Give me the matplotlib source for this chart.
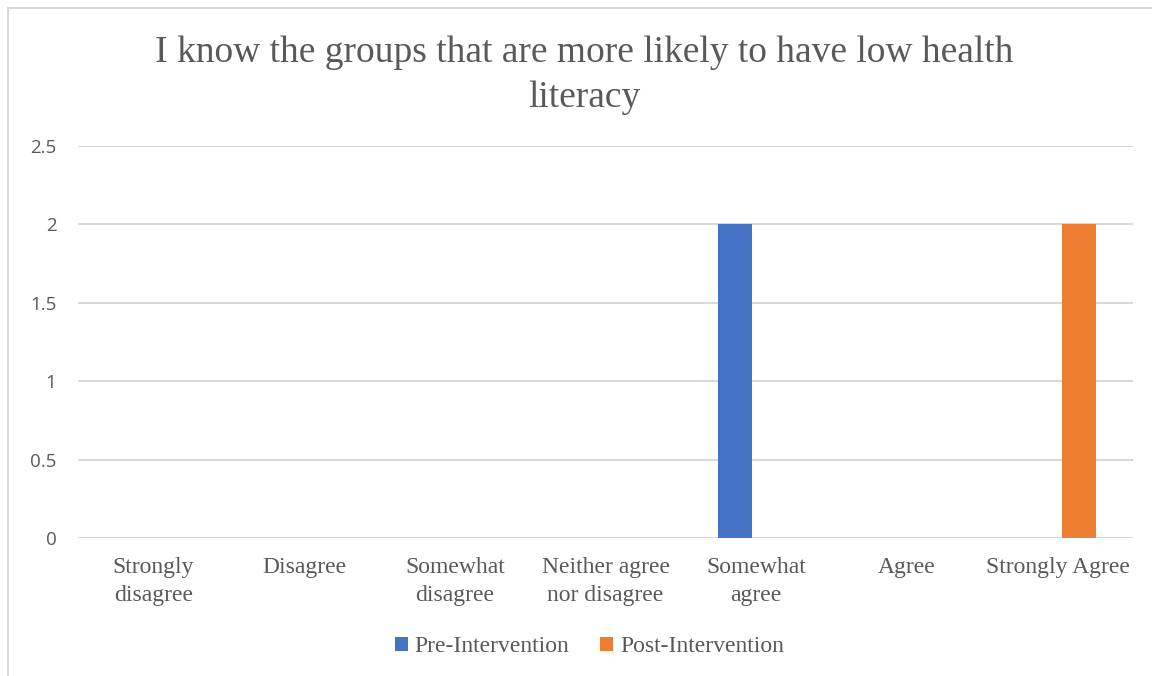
import matplotlib
matplotlib.use("Agg")
import matplotlib.pyplot as plt
from matplotlib.patches import Rectangle
import numpy as np

categories = ["Strongly\ndisagree", "Disagree", "Somewhat\ndisagree",
              "Neither agree\nnor disagree", "Somewhat\nagree", "Agree",
              "Strongly Agree"]
pre_values = [0, 0, 0, 0, 2, 0, 0]
post_values = [0, 0, 0, 0, 0, 0, 2]
series_names = ["Pre-Intervention", "Post-Intervention"]
y_ticks = [0, 0.5, 1, 1.5, 2, 2.5]
y_tick_labels = ["0", "0.5", "1", "1.5", "2", "2.5"]
title = "I know the groups that are more likely to have low health\nliteracy"

BLUE = "#4472C4"
ORANGE = "#ED7D31"
TEXT = "#595959"
GRID = "#D9D9D9"
SERIF = ["Liberation Serif", "DejaVu Serif"]
SANS = ["Open Sans", "DejaVu Sans"]

W, H = 1152, 676
fig = plt.figure(figsize=(W / 100, H / 100), dpi=100)
fig.patch.set_facecolor("white")

# chart-area frame
fig.patches.append(Rectangle((8 / W, -0.05), 1.2, 1 - 8 / H + 0.05,
                             transform=fig.transFigure, fill=False,
                             edgecolor=GRID, linewidth=1.5))

ax = fig.add_axes([78 / W, 1 - 538 / H, (1133 - 78) / W, (538 - 146) / H])
x = np.arange(len(categories))
bw = 0.224
off = 0.141
ax.bar(x - off, pre_values, bw, color=BLUE, label=series_names[0], zorder=3)
ax.bar(x + off, post_values, bw, color=ORANGE, label=series_names[1], zorder=3)

ax.set_xlim(-0.5, len(categories) - 0.5)
ax.set_ylim(0, 2.5)
ax.set_yticks(y_ticks)
ax.set_yticklabels(y_tick_labels, fontfamily=SANS, fontsize=13.5, color=TEXT)
ax.set_xticks(x)
ax.set_xticklabels(categories, fontfamily=SERIF, fontsize=17, color=TEXT,
                   linespacing=1.42)
ax.tick_params(axis="both", length=0)
ax.tick_params(axis="y", pad=15.5)
ax.tick_params(axis="x", pad=14)
for s in ax.spines.values():
    s.set_visible(False)
ax.yaxis.grid(True, color=GRID, linewidth=1.5, zorder=0)
ax.set_axisbelow(True)

fig.text(584.5 / W, 1 - 75 / H, title, ha="center", va="center",
         fontfamily=SERIF, fontsize=27, color=TEXT, linespacing=1.4)

leg = fig.legend(loc="center", bbox_to_anchor=(589.5 / W, 1 - 647 / H),
                 ncol=2, frameon=False, handlelength=0.55, handleheight=0.55,
                 handletextpad=0.3, columnspacing=1.3,
                 prop={"family": SERIF, "size": 17})
for t in leg.get_texts():
    t.set_color(TEXT)

fig.savefig("out.png", dpi=100, facecolor="white")
